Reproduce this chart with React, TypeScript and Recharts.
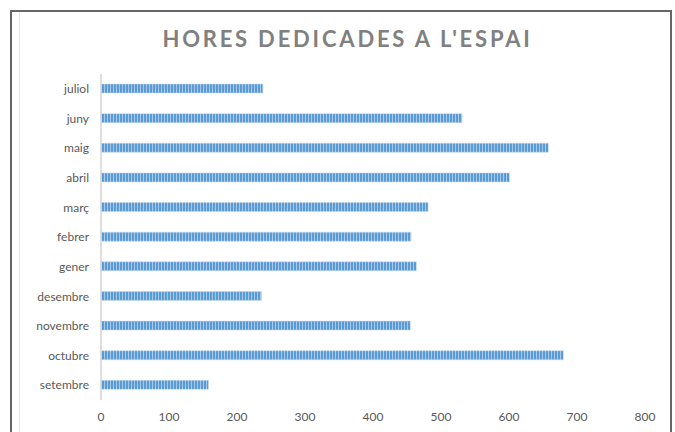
import React from 'react';
import { BarChart, Bar, XAxis, YAxis } from 'recharts';

const months = ['setembre', 'octubre', 'novembre', 'desembre', 'gener', 'febrer', 'març', 'abril', 'maig', 'juny', 'juliol'];
const hours = [158, 680, 455, 236, 464, 456, 481, 601, 658, 531, 238];
const xTicks = [0, 100, 200, 300, 400, 500, 600, 700, 800];
const title = "HORES DEDICADES A L'ESPAI";

const data = months.map((m, i) => ({ month: m, hours: hours[i] }));

const font = 'Lato, "Open Sans", sans-serif';

export default function App() {
  return (
    <div style={{ position: 'absolute', left: 0, top: 0, width: 675, height: 432, background: '#fff', overflow: 'hidden' }}>
      <svg width={0} height={0} style={{ position: 'absolute' }}>
        <defs>
          <pattern id="stripes" patternUnits="userSpaceOnUse" width={3} height={10}>
            <rect x={0} y={0} width={3} height={10} fill="#a9c9e8" />
            <rect x={0} y={0} width={2} height={10} fill="#5b9bd5" />
          </pattern>
        </defs>
      </svg>
      <div style={{ position: 'absolute', left: 10, top: 10, width: 662, height: 440, border: '2px solid #666', boxSizing: 'border-box' }} />
      <div style={{ position: 'absolute', left: 19, top: 12, width: 1, height: 420, background: '#e8e8e8' }} />
      <div style={{ position: 'absolute', left: 0, top: 25, width: 695, textAlign: 'center', fontFamily: font, fontWeight: 700, fontSize: 22, letterSpacing: 2.8, color: '#808080' }}>
        {title}
      </div>
      <div style={{ position: 'absolute', left: 0, top: 0 }}>
        <BarChart width={675} height={432} data={data} layout="vertical" margin={{ top: 74, right: 30, bottom: 0, left: 0 }}>
          <XAxis type="number" domain={[0, 800]} ticks={xTicks} axisLine={false} tickLine={false} tickSize={0} tickMargin={12} height={32} tick={{ fill: '#595959', fontSize: 12, fontFamily: font }} />
          <YAxis type="category" dataKey="month" reversed width={101} axisLine={{ stroke: '#d4d4d4', strokeWidth: 1.5 }} tickLine={false} tickSize={0} tickMargin={12} tick={{ fill: '#595959', fontSize: 12, fontFamily: font }} />
          <Bar dataKey="hours" barSize={9} fill="url(#stripes)" stroke="#c5dbef" strokeWidth={0.5} isAnimationActive={false} />
        </BarChart>
      </div>
    </div>
  );
}
